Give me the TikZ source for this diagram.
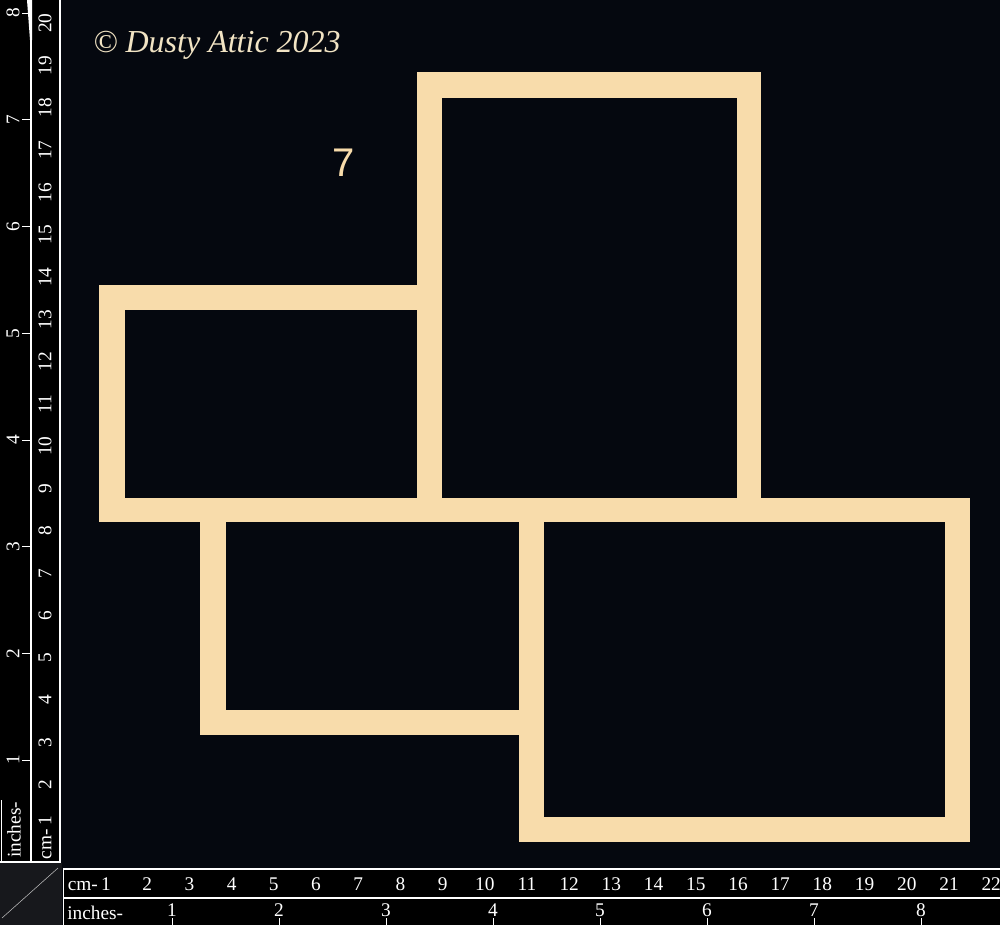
\documentclass[tikz,border=0pt]{standalone}
\usepackage{fontspec}
\setmainfont{Liberation Serif}
\newfontfamily\numsans{Liberation Sans}
\definecolor{bgnavy}{HTML}{05080F}
\definecolor{frametan}{HTML}{F8DCAB}
\definecolor{creamtxt}{HTML}{F2E4C4}
\definecolor{cornergrey}{HTML}{17181C}
\begin{document}
\begin{tikzpicture}[x=0.75pt,y=-0.75pt,
  rulertxt/.style={text=white,font=\fontsize{14.5}{14.5}\selectfont,inner sep=0pt},
  vrulertxt/.style={rulertxt,rotate=90},
  rulerline/.style={white,line width=1.2pt},
  tickline/.style={white,line width=0.6pt}]
\useasboundingbox (0,0) rectangle (1000,925);
\fill[bgnavy] (0,0) rectangle (1000,925);
% ---- vertical ruler ----
\fill[black] (0,0) rectangle (61,862);
\draw[rulerline] (31,0) -- (31,862);
\draw[rulerline] (60,0) -- (60,862);
\draw[rulerline] (0,862) -- (61,862);
\draw[rulerline] (1.5,800) -- (1.5,862);
\fill[white] (27,0) -- (32,0) -- (32,40) -- (30,40) -- cycle;
\foreach \n in {1,...,8}{
  \node[vrulertxt] (vin\n) at (13,{760-106.7*(\n-1)}) {\n};
  \draw[tickline] ({22},{760-106.7*(\n-1)}) -- (31,{760-106.7*(\n-1)});
}
\foreach \k in {2,...,20}{
  \node[vrulertxt] (vcm\k) at (45,{827-42.3*(\k-1)}) {\k};
}
\node[vrulertxt,anchor=east] (vcmlab) at (45,816) {cm-\,1};
\node[vrulertxt,anchor=west] (vinlab) at (14,858) {inches-};
% ---- corner ----
\fill[cornergrey] (0,863) rectangle (62,925);
\draw[gray!50,line width=0.4pt] (2,918) -- (58,868);
% ---- horizontal ruler ----
\fill[black] (63,869) rectangle (1000,925);
\draw[rulerline] (63,869) -- (1000,869);
\draw[rulerline] (63,898) -- (1000,898);
\draw[rulerline] (63.5,869) -- (63.5,925);
\node[rulertxt,anchor=east] (hcmlab) at (111,884) {cm-\,1};
\foreach \k in {2,...,22}{
  \node[rulertxt] (hcm\k) at ({105+42.2*(\k-1)},884) {\k};
}
\node[rulertxt,anchor=west] (hinlab) at (67,913) {inches-};
\foreach \n in {1,...,8}{
  \node[rulertxt] (hin\n) at ({172+107*(\n-1)},910) {\n};
  \draw[tickline] ({172+107*(\n-1)},918) -- ({172+107*(\n-1)},925);
}
% ---- frames ----
\fill[frametan] (416.5,72) rectangle (761,522);
\fill[frametan] (99,285) rectangle (442,522);
\fill[frametan] (200,497.5) rectangle (543.5,735);
\fill[frametan] (518.5,497.5) rectangle (969.5,842);
\fill[bgnavy] (442,97.5) rectangle (736.5,497.5);
\fill[bgnavy] (124.5,310) rectangle (416.5,497.5);
\fill[bgnavy] (225.5,522) rectangle (518.5,710);
\fill[bgnavy] (543.5,522) rectangle (945,817);
% ---- texts ----
\node[text=frametan,font=\numsans\fontsize{30}{30}\selectfont,inner sep=0pt] (seven) at (344,163) {7};
\node[text=creamtxt,font=\itshape\fontsize{24}{24}\selectfont,inner sep=0pt] (copy) at (217,45) {© Dusty Attic 2023};
\end{tikzpicture}
\end{document}
